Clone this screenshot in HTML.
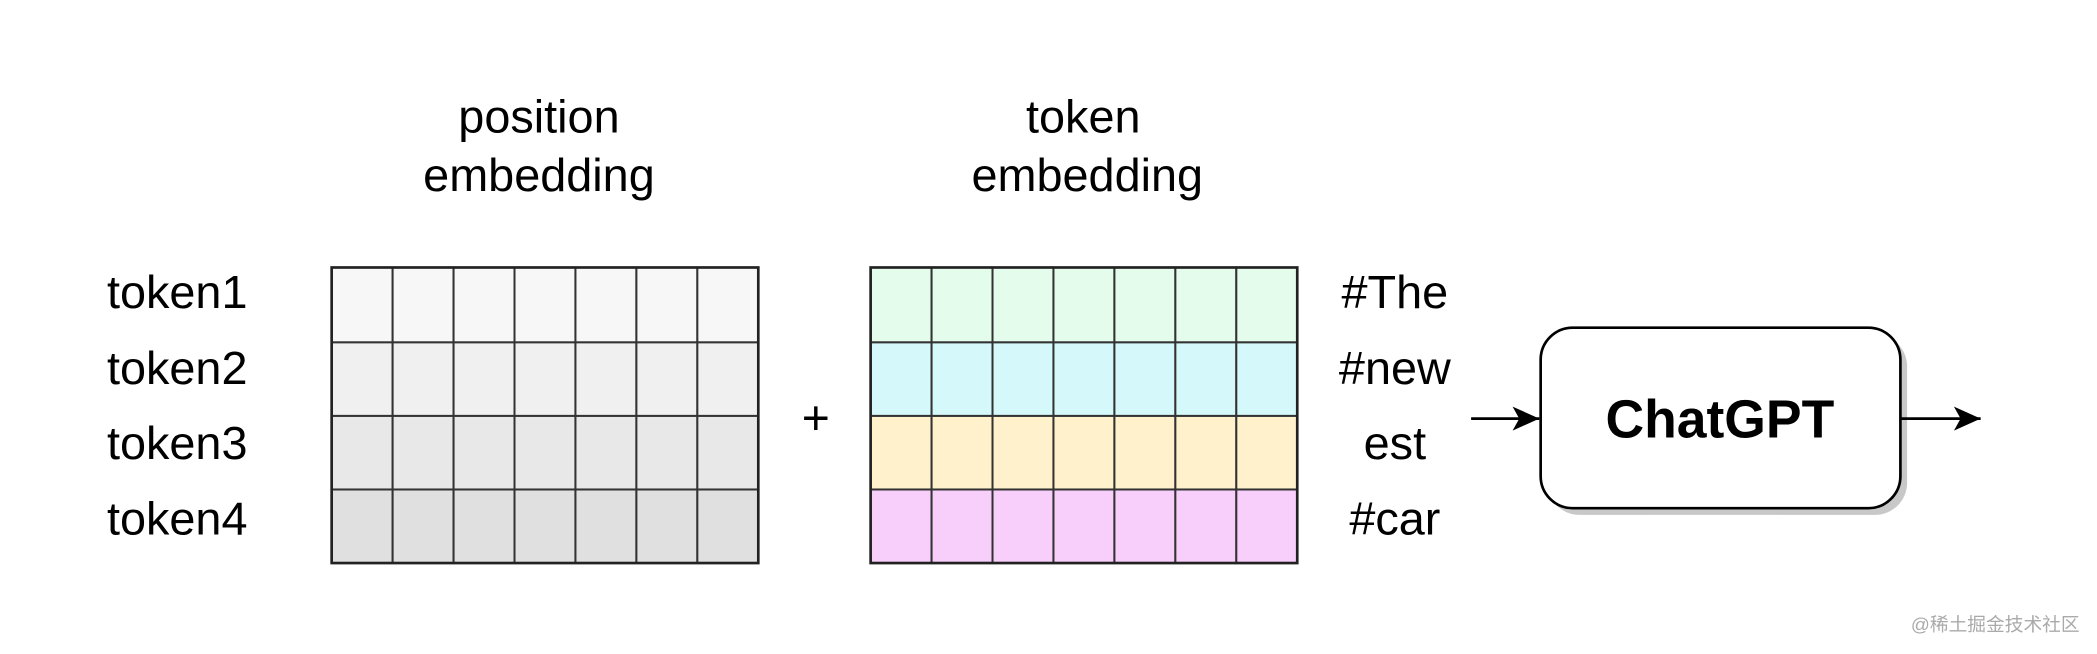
<!DOCTYPE html>
<html><head><meta charset="utf-8"><style>
html,body{margin:0;padding:0;background:#fff;}
svg{display:block;font-family:"Liberation Sans","Noto Sans CJK SC",sans-serif;}
</style></head><body>
<svg id="s" width="2097" height="654" viewBox="0 0 1568 489" xmlns="http://www.w3.org/2000/svg">
<defs><marker id="ah" markerWidth="22" markerHeight="18" refX="20" refY="9" orient="auto" markerUnits="userSpaceOnUse"><path d="M0,0 L20,9 L0,18 L5,9 z" fill="#000"/></marker></defs>
<text x="403" y="99" font-size="35" text-anchor="middle">position</text>
<text x="403" y="143" font-size="35" text-anchor="middle">embedding</text>
<text x="810" y="99" font-size="35" text-anchor="middle">token</text>
<text x="813" y="143" font-size="35" text-anchor="middle">embedding</text>
<g id="grids"></g>
<text x="610" y="325" font-size="36" text-anchor="middle">+</text>
<line x1="1100" y1="313" x2="1151" y2="313" stroke="#000" stroke-width="2" marker-end="url(#ah)"/>
<rect x="1157" y="250" width="269" height="135" rx="24" fill="#c8c8c8"/>
<rect x="1152" y="245" width="269" height="135" rx="24" fill="#fff" stroke="#000" stroke-width="2"/>
<text x="1286" y="327" font-size="40" font-weight="bold" text-anchor="middle">ChatGPT</text>
<line x1="1421" y1="313" x2="1481" y2="313" stroke="#000" stroke-width="2" marker-end="url(#ah)"/>
<text x="1555" y="472" font-size="14" fill="#aaa" text-anchor="end">@稀土掘金技术社区</text>
</svg>
<script>
const tokenLabels=["token1","token2","token3","token4"];
const wordLabels=["#The","#new","est","#car"];
const posColors=["#f7f7f7","#f0f0f0","#e8e8e8","#e0e0e0"];
const tokColors=["#e3fcec","#d5f9fb","#fff1cc","#f8cefb"];
const numCols=7;
const NS="http://www.w3.org/2000/svg";
const g=document.getElementById('grids');
const rowEdges=[200,256,311,366,421];
function grid(x0,x1,colors,name){
  const w=(x1-x0)/numCols;
  colors.forEach((c,r)=>{
    for(let k=0;k<numCols;k++){
      const el=document.createElementNS(NS,'rect');
      
      
      el.setAttribute('x',x0+k*w);el.setAttribute('y',rowEdges[r]);
      el.setAttribute('width',w);el.setAttribute('height',rowEdges[r+1]-rowEdges[r]);
      el.setAttribute('fill',c);el.setAttribute('stroke','#333');el.setAttribute('stroke-width','1.5');
      g.appendChild(el);
    }
  });
  const b=document.createElementNS(NS,'rect');
  
  
  b.setAttribute('x',x0);b.setAttribute('y',200);b.setAttribute('width',x1-x0);b.setAttribute('height',221);
  b.setAttribute('fill','none');b.setAttribute('stroke','#222');b.setAttribute('stroke-width','2');
  g.appendChild(b);
}
grid(248,567,posColors,'position-grid');
grid(651,970,tokColors,'token-grid');
function labels(arr,x,anchor,name){
  arr.forEach((t,i)=>{
    const el=document.createElementNS(NS,'text');
    
    
    const c=(rowEdges[i]+rowEdges[i+1])/2;
    el.setAttribute('x',x);el.setAttribute('y',c+6-(3-i)*1.2);
    el.setAttribute('font-size','35');el.setAttribute('text-anchor',anchor);
    el.textContent=t;g.appendChild(el);
  });
}
labels(tokenLabels,80,'start','token-label');
labels(wordLabels,1043,'middle','word-label');
</script>
</body></html>
